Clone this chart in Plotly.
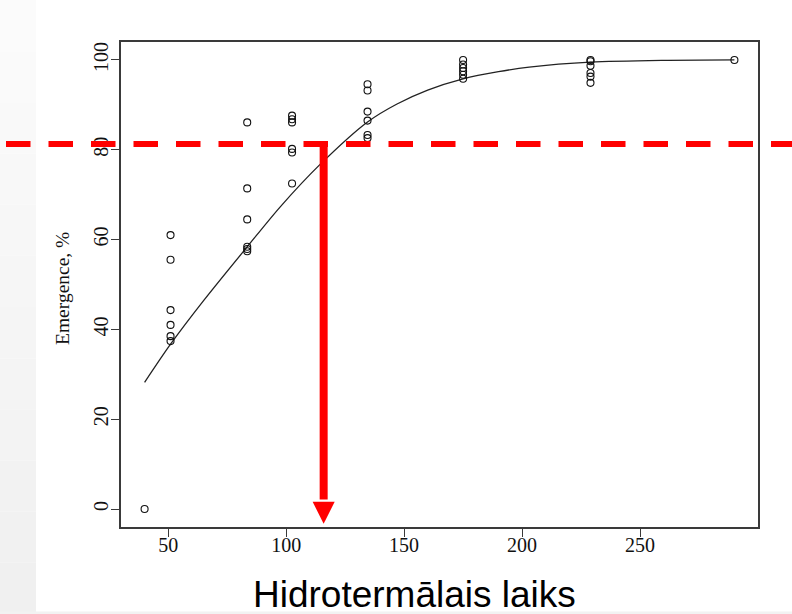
import plotly.graph_objects as go

# ---- data ----
obs_x = [40,
         51, 51, 51, 51, 51, 51,
         83.5, 83.5, 83.5, 83.5, 83.5, 83.5,
         102.5, 102.5, 102.5, 102.5, 102.5, 102.5,
         134.5, 134.5, 134.5, 134.5, 134.5, 134.5,
         175, 175, 175, 175, 175, 175,
         229, 229, 229, 229, 229, 229,
         290]
obs_y = [0,
         61.0, 55.5, 44.3, 41.0, 38.5, 37.4,
         86.1, 71.4, 64.5, 58.4, 57.9, 57.4,
         87.6, 86.8, 86.1, 80.2, 79.4, 72.5,
         94.6, 93.2, 88.5, 86.5, 83.3, 82.6,
         100.0, 99.0, 98.2, 97.5, 96.7, 95.8,
         100.0, 99.7, 98.7, 97.1, 96.3, 94.9,
         100.0]

fit_x = [40, 51, 65, 83.5, 97.5, 114.5, 134.5, 147, 160, 175, 190, 203, 229, 259.5, 290]
fit_y = [28.2, 36.7, 46.4, 58.4, 67.3, 76.8, 86.2, 90.2, 93.3, 95.8, 97.4, 98.4, 99.5, 99.9, 100.0]

threshold_y = 81.3      # red dashed level
arrow_x = 115.9         # red arrow position
arrow_tip_y = -3.3
arrow_base_y = 1.6

x_ticks = [50, 100, 150, 200, 250]
y_ticks = [0, 20, 40, 60, 80, 100]

# ---- layout geometry ----
W, H = 792, 614
L, R, T, B = 121, 34, 42, 87
PW, PH = W - L - R, H - T - B


def px_x(px):
    return (px - L) / PW


def px_y(py):
    return (H - B - py) / PH


fig = go.Figure()

fig.add_trace(go.Scatter(
    x=fit_x, y=fit_y, mode="lines", line=dict(color="#222222", width=1.3, shape="spline", smoothing=0.8),
    hoverinfo="skip", showlegend=False))

fig.add_trace(go.Scatter(
    x=obs_x, y=obs_y, mode="markers",
    marker=dict(symbol="circle-open", size=7, color="#111111", line=dict(width=1.1, color="#111111")),
    showlegend=False))

shapes = []
# left gray page strip (gradient approximation)
n_bands = 12
for i in range(n_bands):
    g = int(251 - 11 * i / (n_bands - 1))
    shapes.append(dict(type="rect", xref="paper", yref="paper",
                       x0=px_x(-2), x1=px_x(36), y0=px_y(H * (i + 1) / n_bands), y1=px_y(H * i / n_bands),
                       fillcolor=f"rgb({g},{g},{g})", line=dict(width=0), layer="below"))
shapes.append(dict(type="rect", xref="paper", yref="paper",
                   x0=px_x(-2), x1=px_x(W + 2), y0=px_y(H + 2), y1=px_y(611.5),
                   fillcolor="rgb(242,242,242)", line=dict(width=0), layer="below"))

# red dashed horizontal line
shapes.append(dict(type="line", xref="paper", yref="y",
                   x0=px_x(6), x1=px_x(W + 30), y0=threshold_y, y1=threshold_y,
                   line=dict(color="#ff0000", width=6, dash="24.5px,18px"), layer="above"))
# red arrow shaft
shapes.append(dict(type="line", xref="x", yref="y",
                   x0=arrow_x, x1=arrow_x, y0=threshold_y + 0.6, y1=arrow_base_y + 0.5,
                   line=dict(color="#ff0000", width=8), layer="above"))
# arrow head
half = 11 / (PW / 270)
shapes.append(dict(type="path", xref="x", yref="y",
                   path=f"M {arrow_x - half},{arrow_base_y} L {arrow_x + half},{arrow_base_y} L {arrow_x},{arrow_tip_y} Z",
                   fillcolor="#ff0000", line=dict(width=0), layer="above"))

annotations = [
    dict(text="Emergence, %", xref="paper", yref="paper", x=px_x(62), y=px_y(289),
         xanchor="center", yanchor="middle", textangle=-90, showarrow=False,
         font=dict(family="Liberation Serif", size=19.5, color="#111111")),
    dict(text="Hidrotermālais laiks", xref="paper", yref="paper", x=px_x(414), y=px_y(594),
         xanchor="center", yanchor="middle", showarrow=False,
         font=dict(family="Liberation Sans", size=37, color="#000000")),
]

axis_common = dict(showline=True, linecolor="#3a3a3a", linewidth=1.5, mirror=True,
                   ticks="outside", ticklen=8, tickwidth=1.3, tickcolor="#3a3a3a",
                   showgrid=False, zeroline=False,
                   tickfont=dict(family="Liberation Serif", size=20, color="#111111"))

fig.update_layout(
    width=W, height=H,
    margin=dict(l=L, r=R, t=T, b=B),
    paper_bgcolor="white", plot_bgcolor="white",
    xaxis=dict(range=[30, 300], tickvals=x_ticks, ticktext=[str(v) for v in x_ticks],
               ticklabelstandoff=-9, **axis_common),
    yaxis=dict(range=[-4, 104], tickvals=y_ticks, ticktext=[str(v) for v in y_ticks], tickangle=-90,
               ticklabelstandoff=-5, **axis_common),
    shapes=shapes,
    annotations=annotations,
)

fig.write_html("out.html")
